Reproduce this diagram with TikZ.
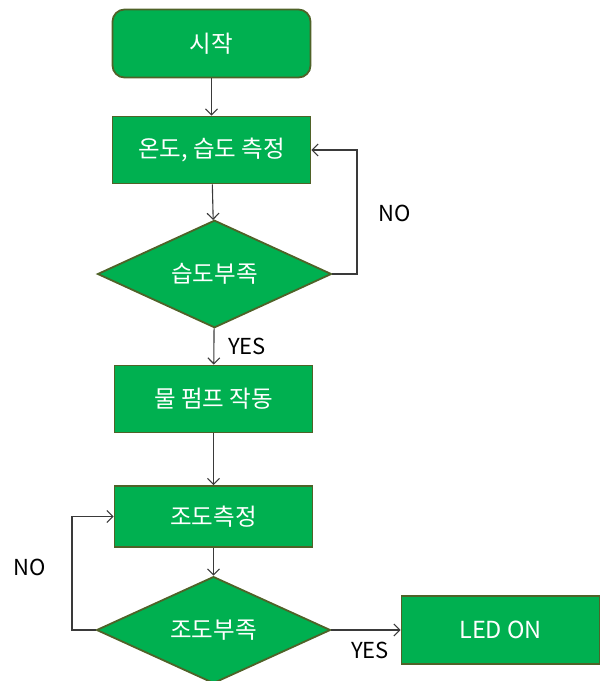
\documentclass[tikz,border=0pt]{standalone}
\usepackage{fontspec}
\setmainfont{Noto Sans CJK KR}
\usepackage{tikz}
\usetikzlibrary{shapes.geometric, arrows.meta}

\definecolor{boxgreen}{HTML}{00B050}
\definecolor{boxedge}{HTML}{4F6228}
\definecolor{wire}{HTML}{3A3A3A}

\begin{document}
\begin{tikzpicture}[x=1pt, y=-1pt,
    >={Straight Barb[length=6pt, width=12pt]},
    proc/.style={draw=boxedge, line width=1.8pt, fill=boxgreen, text=white,
        minimum width=198pt, minimum height=67pt, font=\fontsize{23.5}{28}\selectfont},
    startbox/.style={proc, rounded corners=12pt, minimum height=68pt},
    decide/.style={draw=boxedge, line width=1.8pt, fill=boxgreen, text=white, diamond,
        inner sep=0pt, minimum width=234pt, minimum height=102pt, font=\fontsize{23.5}{28}\selectfont},
    lbl/.style={text=black, font=\fontsize{22}{26}\selectfont},
    conn/.style={draw=wire, line width=1.1pt, ->}]
    \useasboundingbox (0, 0) rectangle (608, 681);

    \node[startbox] at (211.5, 43.5) (start)   {시작};
    \node[proc]     at (211.5, 150)  (measure) {온도, 습도 측정};
    \node[decide]   at (214.5, 274)  (humid)   {습도부족};
    \node[proc]     at (213.5, 399)  (pump)    {물 펌프 작동};
    \node[proc, minimum height=61pt] at (213.5, 516.5) (light) {조도측정};
    \node[decide, minimum height=104pt] at (213.5, 630) (dark) {조도부족};
    \node[proc, minimum height=68pt] at (500.5, 630) (led) {LED ON};

    \coordinate (back1) at (357, 150);
    \coordinate (back2) at (72, 516.5);

    \draw[conn] (start) -- (measure);
    \draw[conn] (measure) -- (humid);
    \draw[conn] (humid.east) -| (back1) -- (measure.east);
    \draw[conn] (humid) -- (pump);
    \draw[conn] (pump) -- (light);
    \draw[conn] (light) -- (dark);
    \draw[conn] (dark.west) -| (back2) -- (light.west);
    \draw[conn] (dark) -- (led);

    \node[lbl] at (395, 213) (no1)  {NO};
    \node[lbl] at (247, 346) (yes1) {YES};
    \node[lbl] at (30, 567)  (no2)  {NO};
    \node[lbl] at (370, 650) (yes2) {YES};
\end{tikzpicture}
\end{document}
